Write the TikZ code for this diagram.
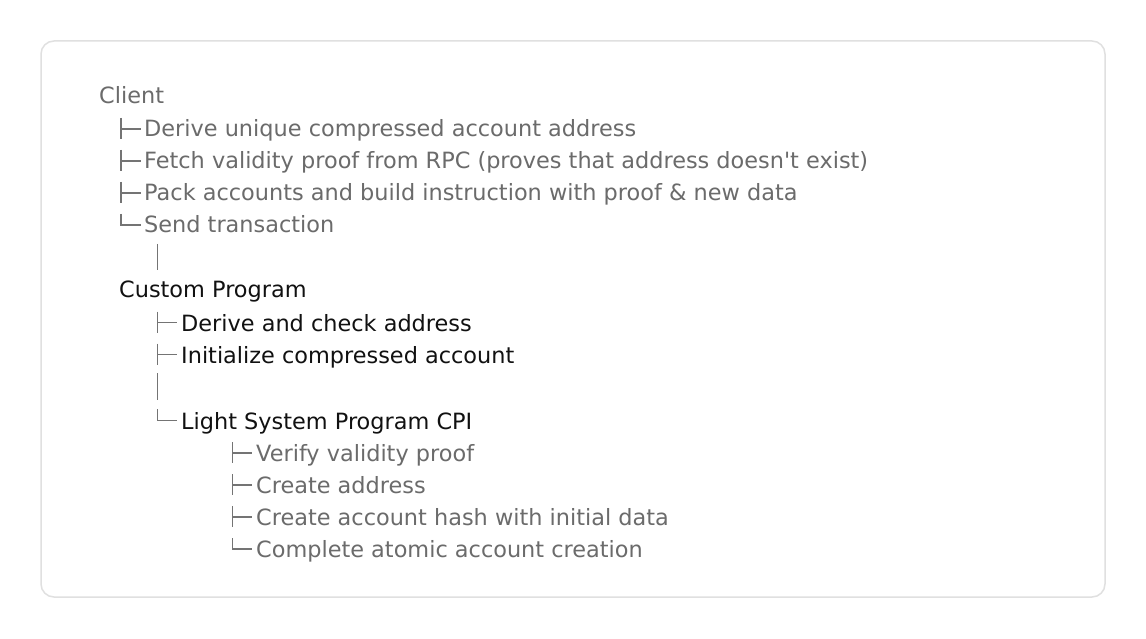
\documentclass[tikz,border=0pt]{standalone}
\usepackage{fontspec}
\setmainfont{DejaVu Sans}
\begin{document}
\begin{tikzpicture}[x=1pt,y=-1pt,
  graytxt/.style={anchor=base west,inner sep=0pt,text=txtgray,font=\fontsize{22.4}{25}\selectfont},
  blacktxt/.style={anchor=base west,inner sep=0pt,text=txtblack,font=\fontsize{22.4}{25}\selectfont},
  treeline/.style={draw=linegray,line width=1.1pt}]
\definecolor{txtgray}{HTML}{6B6B6B}
\definecolor{txtblack}{HTML}{111111}
\definecolor{linegray}{HTML}{747474}
\definecolor{boxgray}{HTML}{E0E0E0}
\useasboundingbox (0,0) rectangle (1146,639);
\fill[white] (0,0) rectangle (1146,639);
\draw[draw=boxgray,line width=1.5pt,rounded corners=13pt] (41,41) rectangle (1105,597);

% Client
\node[graytxt] (client) at (99,103.5) {Client};
\node[graytxt] (c1) at (144,137) {Derive unique compressed account address};
\node[graytxt] (c2) at (144,169) {Fetch validity proof from RPC (proves that address doesn\textquotesingle t exist)};
\node[graytxt] (c3) at (144,201) {Pack accounts and build instruction with proof \& new data};
\node[graytxt] (c4) at (144,233) {Send transaction};
\foreach \t in {129,161,193}{
  \draw[treeline] (121,\t-11) -- (121,\t+10);
  \draw[treeline] (121,\t) -- (141,\t);
}
\draw[treeline] (121,214) -- (121,225) -- (141,225);
\coordinate (b1top) at (157.5,244);
\coordinate (b1bot) at (157.5,270);
\draw[treeline] (b1top) -- (b1bot);

% Custom Program
\node[blacktxt] (cp) at (119,297) {Custom Program};
\node[blacktxt] (p1) at (181,331.5) {Derive and check address};
\node[blacktxt] (p2) at (181,363) {Initialize compressed account};
\foreach \t in {322.5,354.5}{
  \draw[treeline] (157.5,\t-11) -- (157.5,\t+10);
  \draw[treeline] (157.5,\t) -- (177,\t);
}
\coordinate (b2top) at (157.5,373);
\coordinate (b2bot) at (157.5,400);
\draw[treeline] (b2top) -- (b2bot);
\draw[treeline] (157.5,409) -- (157.5,420.5) -- (177,420.5);
\node[blacktxt] (lsp) at (181,429) {Light System Program CPI};

% Light System Program children
\node[graytxt] (l1) at (256,461) {Verify validity proof};
\node[graytxt] (l2) at (256,493) {Create address};
\node[graytxt] (l3) at (256,525) {Create account hash with initial data};
\node[graytxt] (l4) at (256,557) {Complete atomic account creation};
\foreach \t in {453,485,517}{
  \draw[treeline] (232.5,\t-11) -- (232.5,\t+10);
  \draw[treeline] (232.5,\t) -- (252,\t);
}
\draw[treeline] (232.5,538) -- (232.5,549) -- (252,549);
\end{tikzpicture}
\end{document}
